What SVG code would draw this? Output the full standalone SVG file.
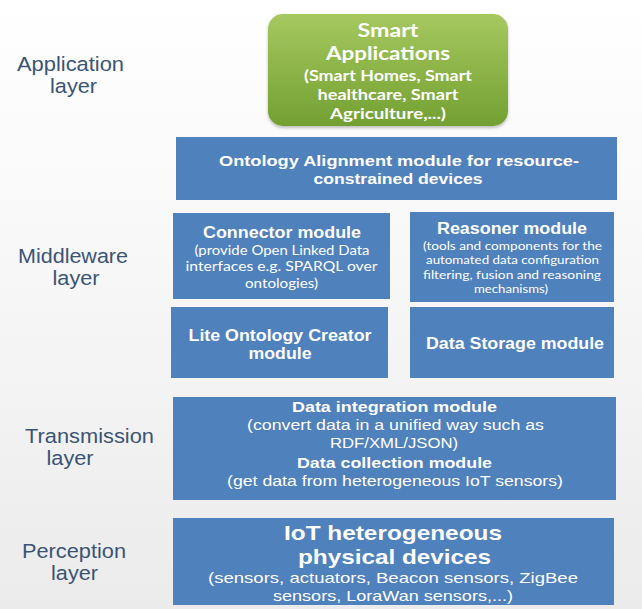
<svg xmlns="http://www.w3.org/2000/svg" width="642" height="609" viewBox="0 0 642 609">
<defs>
<linearGradient id="bg" x1="0" y1="0" x2="0" y2="1">
<stop offset="0" stop-color="#ffffff"/>
<stop offset="0.5" stop-color="#f6f6f6"/>
<stop offset="1" stop-color="#ebebeb"/>
</linearGradient>
<linearGradient id="green" x1="0" y1="0" x2="0" y2="1">
<stop offset="0" stop-color="#a6c85f"/>
<stop offset="1" stop-color="#73a032"/>
</linearGradient>
<linearGradient id="rule" x1="0" y1="0" x2="1" y2="0">
<stop offset="0" stop-color="#9fb3cc"/>
<stop offset="0.3" stop-color="#8aa5c8"/>
<stop offset="1" stop-color="#8aa5c8"/>
</linearGradient>
<filter id="sh" x="-10%" y="-10%" width="120%" height="130%">
<feDropShadow dx="0" dy="2" stdDeviation="1.5" flood-color="#000" flood-opacity="0.25"/>
</filter>
</defs>
<style>
.box{fill:#4f81bd;}
.t{fill:#ffffff;font-family:"Liberation Sans",Arial,sans-serif;text-anchor:middle;}
.b{font-weight:bold;}
.c{fill:#ffffff;font-family:Lato,"Open Sans",sans-serif;text-anchor:middle;}
.lbl{fill:#3a5475;font-family:"Liberation Sans",Arial,sans-serif;font-size:20.5px;text-anchor:middle;}
.rule{stroke:url(#rule);stroke-width:2;fill:none;}
</style>
<rect x="0" y="0" width="642" height="609" fill="url(#bg)"/>
<g id="rules">
<line class="rule" x1="18" y1="10" x2="642" y2="10"/>
<line class="rule" x1="18" y1="131" x2="642" y2="131"/>
<line class="rule" x1="6" y1="382" x2="642" y2="382"/>
<line class="rule" x1="6" y1="513" x2="642" y2="513"/>
</g>
<g id="labels">
<text class="lbl" x="70.5" y="71" textLength="107" lengthAdjust="spacingAndGlyphs">Application</text>
<text class="lbl" x="73.5" y="93" textLength="47" lengthAdjust="spacingAndGlyphs">layer</text>
<text class="lbl" x="73" y="263" textLength="110" lengthAdjust="spacingAndGlyphs">Middleware</text>
<text class="lbl" x="76" y="285" textLength="47" lengthAdjust="spacingAndGlyphs">layer</text>
<text class="lbl" x="89.5" y="443" textLength="129" lengthAdjust="spacingAndGlyphs">Transmission</text>
<text class="lbl" x="70" y="465" textLength="47" lengthAdjust="spacingAndGlyphs">layer</text>
<text class="lbl" x="74" y="558" textLength="104" lengthAdjust="spacingAndGlyphs">Perception</text>
<text class="lbl" x="74.5" y="580" textLength="47" lengthAdjust="spacingAndGlyphs">layer</text>
</g>
<g id="smart-applications">
<rect x="268" y="14" width="240" height="112" rx="15" fill="url(#green)" filter="url(#sh)"/>
<text class="c b" x="388" y="37" font-size="19" textLength="61" lengthAdjust="spacingAndGlyphs">Smart</text>
<text class="c b" x="388" y="60" font-size="19" textLength="124" lengthAdjust="spacingAndGlyphs">Applications</text>
<text class="c b" x="388" y="81" font-size="15" textLength="168" lengthAdjust="spacingAndGlyphs">(Smart Homes, Smart</text>
<text class="c b" x="388" y="100" font-size="15" textLength="141" lengthAdjust="spacingAndGlyphs">healthcare, Smart</text>
<text class="c b" x="388" y="119" font-size="15" textLength="116" lengthAdjust="spacingAndGlyphs">Agriculture,...)</text>
</g>
<g id="ontology-alignment">
<rect class="box" x="176" y="137" width="441" height="63"/>
<text class="t b" x="399" y="166" font-size="15.5" textLength="360" lengthAdjust="spacingAndGlyphs">Ontology Alignment module for resource-</text>
<text class="t b" x="398" y="184" font-size="15.5" textLength="169" lengthAdjust="spacingAndGlyphs">constrained devices</text>
</g>
<g id="connector">
<rect class="box" x="173" y="213" width="217" height="86"/>
<text class="t b" x="282" y="238" font-size="16" textLength="158" lengthAdjust="spacingAndGlyphs">Connector module</text>
<text class="c" x="282" y="255" font-size="13.5" textLength="175" lengthAdjust="spacingAndGlyphs">(provide Open Linked Data</text>
<text class="c" x="281.5" y="271" font-size="13.5" textLength="192" lengthAdjust="spacingAndGlyphs">interfaces e.g. SPARQL over</text>
<text class="c" x="281.5" y="288" font-size="13.5" textLength="73" lengthAdjust="spacingAndGlyphs">ontologies)</text>
</g>
<g id="reasoner">
<rect class="box" x="410" y="212" width="204" height="90"/>
<text class="t b" x="512" y="234" font-size="16" textLength="150" lengthAdjust="spacingAndGlyphs">Reasoner module</text>
<text class="c" x="512.5" y="250" font-size="12" textLength="179" lengthAdjust="spacingAndGlyphs">(tools and components for the</text>
<text class="c" x="512.5" y="264" font-size="12" textLength="173" lengthAdjust="spacingAndGlyphs">automated data configuration</text>
<text class="c" x="512" y="279" font-size="12" textLength="178" lengthAdjust="spacingAndGlyphs">filtering, fusion and reasoning</text>
<text class="c" x="511" y="293" font-size="12" textLength="74" lengthAdjust="spacingAndGlyphs">mechanisms)</text>
</g>
<g id="lite-ontology-creator">
<rect class="box" x="171" y="307" width="217" height="71"/>
<text class="t b" x="280" y="341" font-size="16" textLength="183" lengthAdjust="spacingAndGlyphs">Lite Ontology Creator</text>
<text class="t b" x="280" y="359" font-size="16" textLength="63" lengthAdjust="spacingAndGlyphs">module</text>
</g>
<g id="data-storage">
<rect class="box" x="410" y="307" width="204" height="71"/>
<text class="t b" x="515" y="349" font-size="16" textLength="178" lengthAdjust="spacingAndGlyphs">Data Storage module</text>
</g>
<g id="transmission">
<rect class="box" x="173" y="397" width="443" height="103"/>
<text class="t b" x="394.5" y="412" font-size="15" textLength="205" lengthAdjust="spacingAndGlyphs">Data integration module</text>
<text class="t" x="395.5" y="430" font-size="15.5" textLength="297" lengthAdjust="spacingAndGlyphs">(convert data in a unified way such as</text>
<text class="t" x="394" y="448" font-size="15.5" textLength="128" lengthAdjust="spacingAndGlyphs">RDF/XML/JSON)</text>
<text class="t b" x="394.5" y="468" font-size="15" textLength="195" lengthAdjust="spacingAndGlyphs">Data collection module</text>
<text class="t" x="395" y="486" font-size="15.5" textLength="336" lengthAdjust="spacingAndGlyphs">(get data from heterogeneous IoT sensors)</text>
</g>
<g id="iot-devices">
<rect class="box" x="173" y="518" width="441" height="87"/>
<text class="t b" x="393" y="540" font-size="21" textLength="218" lengthAdjust="spacingAndGlyphs">IoT heterogeneous</text>
<text class="t b" x="394.5" y="564" font-size="21" textLength="193" lengthAdjust="spacingAndGlyphs">physical devices</text>
<text class="t" x="393" y="583" font-size="15" textLength="370" lengthAdjust="spacingAndGlyphs">(sensors, actuators, Beacon  sensors, ZigBee</text>
<text class="t" x="393" y="601" font-size="15" textLength="240" lengthAdjust="spacingAndGlyphs">sensors, LoraWan sensors,...)</text>
</g>
</svg>
